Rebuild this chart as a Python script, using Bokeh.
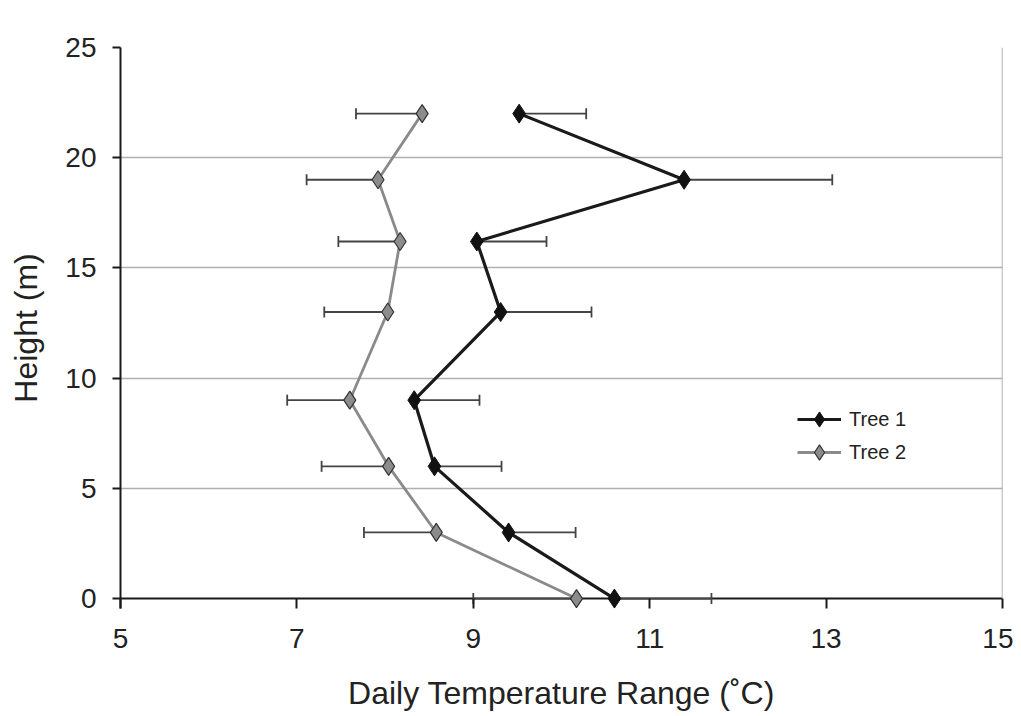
from bokeh.plotting import figure
from bokeh.models import Range1d, Legend, LegendItem, Grid, FixedTicker
from bokeh.embed import file_html
from bokeh.resources import INLINE
import math

heights = [0, 3, 6, 9, 13, 16.2, 19, 22]
tree1 = [10.60, 9.40, 8.56, 8.33, 9.31, 9.04, 11.39, 9.52]
tree1_err = [1.10, 0.76, 0.76, 0.74, 1.03, 0.79, 1.68, 0.76]
tree2 = [10.17, 8.58, 8.04, 7.60, 8.03, 8.17, 7.92, 8.42]
tree2_err = [1.17, 0.82, 0.76, 0.71, 0.72, 0.70, 0.81, 0.75]
x_ticks = [5, 7, 9, 11, 13, 15]
y_ticks = [0, 5, 10, 15, 20, 25]

FONT = "Liberation Sans"

# a little room below 0 so the markers at height 0 are not cut by the frame
p = figure(width=1013, height=716, output_backend="svg", toolbar_location=None,
           x_range=Range1d(x_ticks[0], x_ticks[-1]), y_range=Range1d(-0.45, y_ticks[-1]),
           min_border_left=120, min_border_right=11, min_border_top=47, min_border_bottom=108)
p.background_fill_color = "white"
p.border_fill_color = "white"
p.outline_line_color = None

p.xgrid.grid_line_color = None
p.ygrid.grid_line_color = "#b0b0b0"
p.ygrid.grid_line_width = 1.5
p.ygrid.ticker = y_ticks[1:]

# x-axis line drawn at height 0
zero_line = Grid(dimension=1, ticker=FixedTicker(ticks=y_ticks[:1]),
                 grid_line_color="#1a1a1a", grid_line_width=2)
p.add_layout(zero_line)

for ax in (p.xaxis[0], p.yaxis[0]):
    ax.axis_line_color = "#1a1a1a"
    ax.axis_line_width = 2
    ax.major_tick_line_color = "#1a1a1a"
    ax.major_tick_line_width = 2
    ax.major_tick_in = 0
    ax.major_tick_out = 8
    ax.minor_tick_line_color = None
    ax.major_label_text_font = FONT
    ax.major_label_text_font_size = "28px"
    ax.major_label_text_color = "#222222"
    ax.axis_label_text_font = FONT
    ax.axis_label_text_font_size = "32px"
    ax.axis_label_text_font_style = "normal"
    ax.axis_label_text_color = "#222222"

p.xaxis.axis_line_color = None
p.xaxis.major_tick_in = 10
p.xaxis.major_tick_out = 0
p.xaxis.ticker = x_ticks
p.yaxis.ticker = y_ticks
p.xaxis.axis_label = "Daily Temperature Range (˚C)"
p.yaxis.axis_label = "Height (m)"
p.xaxis.major_label_standoff = 20
p.xaxis.axis_label_standoff = 24
p.yaxis.major_label_standoff = 16
p.yaxis.axis_label_standoff = 18

# right-hand border of the plot area
p.segment(x0=[x_ticks[-1]], y0=[y_ticks[0]], x1=[x_ticks[-1]], y1=[y_ticks[-1]],
          line_color="#9a9a9a", line_width=1.5)

up1 = [v + e for v, e in zip(tree1, tree1_err)]
lo2 = [v - e for v, e in zip(tree2, tree2_err)]

err_color = "#444444"
p.segment(x0=tree1, y0=heights, x1=up1, y1=heights, line_color=err_color, line_width=1.8)
p.scatter(x=up1, y=heights, marker="dash", size=11, angle=math.pi / 2,
          line_color=err_color, line_width=1.8)
p.segment(x0=tree2, y0=heights, x1=lo2, y1=heights, line_color=err_color, line_width=1.8)
p.scatter(x=lo2, y=heights, marker="dash", size=11, angle=math.pi / 2,
          line_color=err_color, line_width=1.8)

l2 = p.line(tree2, heights, line_color="#8a8a8a", line_width=2.8)
m2 = p.scatter(tree2, heights, marker="diamond", size=18, fill_color="#8c8c8c",
               line_color="#333333", line_width=1.2)
l1 = p.line(tree1, heights, line_color="#1a1a1a", line_width=3.2)
m1 = p.scatter(tree1, heights, marker="diamond", size=19, fill_color="#111111",
               line_color="#111111", line_width=1)


def make_legend(label, renderers, loc):
    lg = Legend(items=[LegendItem(label=label, renderers=renderers)], location=loc)
    lg.background_fill_alpha = 0
    lg.border_line_color = None
    lg.padding = 0
    lg.margin = 0
    lg.glyph_width = 44
    lg.glyph_height = 38
    lg.label_height = 38
    lg.label_standoff = 8
    lg.label_text_font = FONT
    lg.label_text_font_size = "20px"
    lg.label_text_color = "#222222"
    return lg


p.add_layout(make_legend("Tree 1", [l1, m1], (677, 170)), "center")
p.add_layout(make_legend("Tree 2", [l2, m2], (677, 137)), "center")

open("out.html", "w").write(file_html(p, INLINE))
